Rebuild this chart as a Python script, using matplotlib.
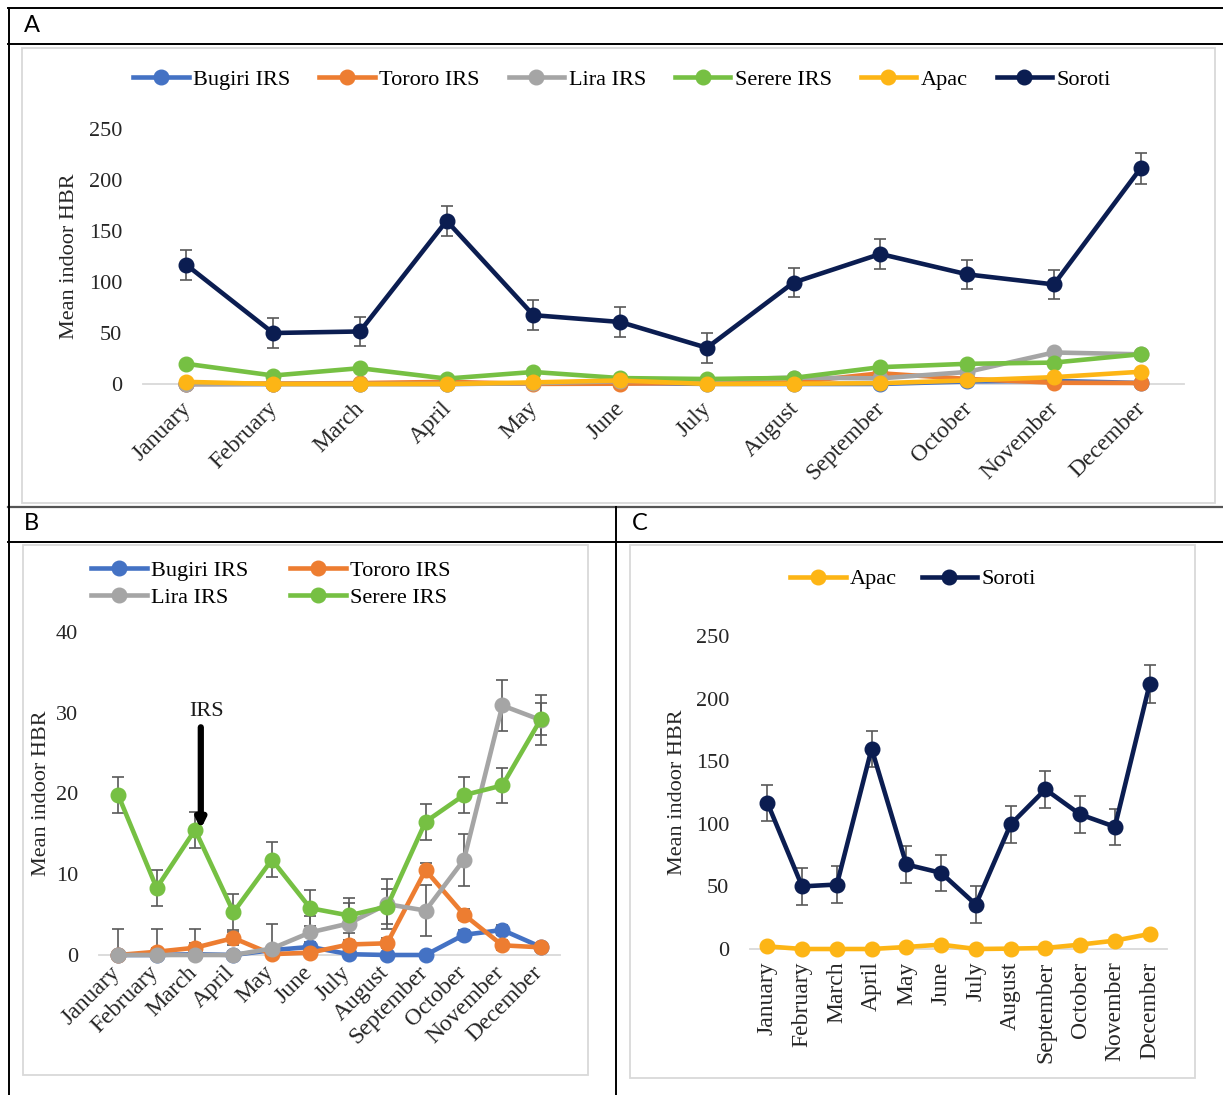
import numpy as np
import matplotlib
matplotlib.use("Agg")
import matplotlib.pyplot as plt
from matplotlib.lines import Line2D
from matplotlib.patches import Rectangle
from matplotlib.transforms import ScaledTranslation

# ---------------- data ----------------
months = ["January", "February", "March", "April", "May", "June", "July",
          "August", "September", "October", "November", "December"]

bugiri = [0, 0, 0.1, 0, 0.6, 1.0, 0.1, 0, 0, 2.5, 3.1, 1.0]
tororo = [0, 0.4, 0.9, 2.1, 0.1, 0.3, 1.3, 1.45, 10.5, 5.0, 1.2, 0.95]
lira = [0, 0, 0, 0, 0.8, 2.8, 3.9, 6.3, 5.5, 11.8, 30.9, 29.1]
serere = [19.8, 8.3, 15.5, 5.3, 11.8, 5.8, 4.9, 6.0, 16.5, 19.8, 21.0, 29.2]
apac = [2.1, 0, 0, 0, 1.6, 3.5, 0, 0.3, 0.8, 3.5, 6.7, 12.0]
soroti = [116.8, 50, 51.5, 160, 67.5, 60.8, 35.5, 99.5, 127.5, 107.5, 97.6, 211.5]

bugiri_err = [0.5, 0.5, 0.5, 0.3, 0.5, 0.6, 0.4, 0.3, 0.3, 0.6, 0.6, 0.5]
tororo_err = [0.5, 0.5, 0.6, 0.8, 0.5, 0.5, 0.6, 0.6, 0.9, 0.7, 0.6, 0.5]
lira_err = [3.2, 3.2, 3.2, 0.5, 3.1, 2.0, 2.5, 3.1, 3.2, 3.2, 3.2, 3.1]
serere_err = [2.2, 2.2, 2.2, 2.2, 2.2, 2.2, 2.2, 2.2, 2.2, 2.2, 2.2, 2.0]
soroti_err = [14.5, 14.5, 14.5, 14.5, 14.5, 14.5, 14.5, 14.5, 14.5, 14.5, 14.5, 15.0]

names = ["Bugiri IRS", "Tororo IRS", "Lira IRS", "Serere IRS", "Apac", "Soroti"]
colors = {"Bugiri IRS": "#4472C4", "Tororo IRS": "#ED7D31", "Lira IRS": "#A5A5A5",
          "Serere IRS": "#76C043", "Apac": "#FDB515", "Soroti": "#0B1D51"}
values = {"Bugiri IRS": bugiri, "Tororo IRS": tororo, "Lira IRS": lira,
          "Serere IRS": serere, "Apac": apac, "Soroti": soroti}
errors = {"Bugiri IRS": bugiri_err, "Tororo IRS": tororo_err, "Lira IRS": lira_err,
          "Serere IRS": serere_err, "Soroti": soroti_err}

# ---------------- style ----------------
SERIF = ["Liberation Serif", "DejaVu Serif"]
plt.rcParams["font.family"] = SERIF
FS = 16
XFS = 17
LW = 3.3
MS = 10.5
ERRC = "#595959"
TXT = "#262626"

W, H = 1223, 1095
fig = plt.figure(figsize=(W / 100, H / 100), dpi=100)


def fx(px):
    return px / W


def fy(py):
    return 1 - py / H


def axes_px(left, top, right, bottom):
    return fig.add_axes([fx(left), fy(bottom), fx(right - left), (bottom - top) / H])


# ruled frame around the three panels
def hline(y, x0, x1, color="black", lw=1.4):
    fig.add_artist(Line2D([fx(x0), fx(x1)], [fy(y), fy(y)], color=color, lw=lw,
                          transform=fig.transFigure))


def vline(x, y0, y1, color="black", lw=1.4):
    fig.add_artist(Line2D([fx(x), fx(x)], [fy(y0), fy(y1)], color=color, lw=lw,
                          transform=fig.transFigure))


hline(8, 8, W)
hline(44, 8, W)
hline(507, 8, W, color="#555555", lw=1.6)
hline(542, 8, W)
vline(9, 8, H)
vline(616, 507, H)

# chart-area borders
for (l, t, r, b) in [(22, 48, 1215, 503), (23, 545, 588, 1075), (630, 545, 1195, 1078)]:
    fig.add_artist(Rectangle((fx(l), fy(b)), fx(r - l), (b - t) / H, fill=False,
                             edgecolor="#D9D9D9", lw=1.3, transform=fig.transFigure))

for lab, x, y in [("A", 24, 26), ("B", 24, 523), ("C", 632, 523)]:
    fig.text(fx(x), fy(y), lab, fontsize=17, family=["Lato", "DejaVu Sans"],
             ha="left", va="center")


def style_axes(ax, ymax, ystep):
    x = np.arange(len(months))
    ax.set_xlim(-0.5, len(months) - 0.5)
    ax.set_ylim(0, ymax)
    ax.set_yticks(np.arange(0, ymax + 1, ystep))
    ax.set_xticks(x)
    for s in ["top", "right", "left"]:
        ax.spines[s].set_visible(False)
    ax.spines["bottom"].set_color("#D9D9D9")
    ax.spines["bottom"].set_linewidth(1.3)
    ax.tick_params(axis="both", length=0, labelsize=FS, colors=TXT)
    ax.tick_params(axis="x", labelsize=XFS)
    ax.tick_params(axis="y", pad=15)
    ax.patch.set_alpha(0)
    ax.set_ylabel("Mean indoor HBR", fontsize=FS, color=TXT)


def draw_series(ax, name, with_err):
    x = np.arange(len(months))
    v = np.array(values[name], dtype=float)
    if with_err and name in errors:
        e = np.array(errors[name], dtype=float)
        lower = np.minimum(e, v)
        ax.errorbar(x, v, yerr=[lower, e], fmt="none", ecolor=ERRC, elinewidth=1.2,
                    capsize=4.5, capthick=1.2, zorder=2)
    ax.plot(x, v, color=colors[name], lw=LW, marker="o", ms=MS, label=name,
            clip_on=False, zorder=3, solid_capstyle="round")


def legend_handle(name):
    return Line2D([], [], color=colors[name], lw=LW, marker="o", ms=MS)


def shift_labels(ax, dx_px, dy_px=0):
    for lbl in ax.get_xticklabels():
        lbl.set_transform(lbl.get_transform() +
                          ScaledTranslation(dx_px / 100, dy_px / 100, fig.dpi_scale_trans))


# ---------------- panel A ----------------
axA = axes_px(143, 129, 1184, 384)
style_axes(axA, 250, 50)
for n in names:
    draw_series(axA, n, with_err=(n == "Soroti"))
axA.set_xticklabels(months, rotation=45, ha="right", va="top")
axA.tick_params(axis="x", pad=10)
shift_labels(axA, 9)
axA.yaxis.set_label_coords(-0.061, 0.5)
fig.legend([legend_handle(n) for n in names], names, loc="center",
           bbox_to_anchor=(fx(622), fy(80)), ncol=6, frameon=False, fontsize=FS,
           handlelength=2.5, handletextpad=0.2, columnspacing=1.3, borderaxespad=0)

# ---------------- panel B ----------------
irs = names[:4]
axB = axes_px(99, 632, 560, 955)
style_axes(axB, 40, 10)
for n in irs:
    draw_series(axB, n, with_err=True)
axB.set_xticklabels(months, rotation=45, ha="right", va="top")
axB.tick_params(axis="x", pad=5)
shift_labels(axB, 6)
axB.yaxis.set_label_coords(-0.104, 0.5)
axB.annotate("", xy=(2.15, 15.6), xytext=(2.15, 28.2),
             arrowprops=dict(arrowstyle="-|>", color="black", lw=4.5,
                             mutation_scale=13, shrinkA=0, shrinkB=0), zorder=5)
axB.text(2.3, 30.2, "IRS", fontsize=FS, ha="center", va="center", color="#1a1a1a")
order_b = ["Bugiri IRS", "Lira IRS", "Tororo IRS", "Serere IRS"]
fig.legend([legend_handle(n) for n in order_b], order_b, loc="center",
           bbox_to_anchor=(fx(271), fy(584)), ncol=2, frameon=False, fontsize=FS,
           handlelength=2.5, handletextpad=0.2, columnspacing=1.9, labelspacing=0.28,
           borderaxespad=0)

# ---------------- panel C ----------------
cc = ["Apac", "Soroti"]
axC = axes_px(750, 636, 1167, 949)
style_axes(axC, 250, 50)
for n in cc:
    draw_series(axC, n, with_err=(n == "Soroti"))
axC.set_xticklabels(months, rotation=90, ha="center", va="top")
axC.tick_params(axis="x", pad=9)
axC.yaxis.set_label_coords(-0.151, 0.5)
fig.legend([legend_handle(n) for n in cc], cc, loc="center",
           bbox_to_anchor=(fx(913), fy(579)), ncol=2, frameon=False, fontsize=FS,
           handlelength=2.5, handletextpad=0.2, columnspacing=1.1, borderaxespad=0)

fig.savefig("out.png", dpi=100, facecolor="white")
